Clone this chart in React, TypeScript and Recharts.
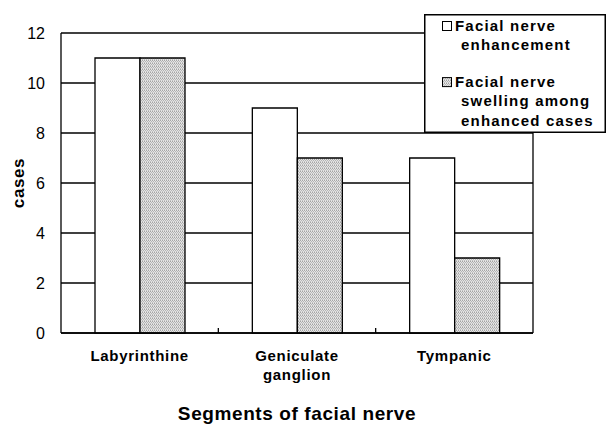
import { BarChart, Bar, XAxis, YAxis, CartesianGrid, Legend, Label } from 'recharts';

const segments = ['Labyrinthine', 'Geniculate ganglion', 'Tympanic'];
const enhancement = [11, 9, 7];
const swelling = [11, 7, 3];
const yTicks = [0, 2, 4, 6, 8, 10, 12];

const data = segments.map((s, i) => ({
  segment: s,
  enhancement: enhancement[i],
  swelling: swelling[i],
}));

const W = 606;
const H = 428;
const margin = { top: 33, right: 73, bottom: 0, left: 0 };
const yAxisWidth = 61;
const plotWidth = W - margin.left - margin.right - yAxisWidth;
const band = plotWidth / segments.length;

const font = "'Liberation Sans', Arial, sans-serif";

// crude word wrap, good enough for these labels
function wrap(text: string, max = 14) {
  const lines: string[] = [];
  let cur = '';
  text.split(' ').forEach((w) => {
    if (cur && (cur + ' ' + w).length > max) {
      lines.push(cur);
      cur = w;
    } else {
      cur = cur ? cur + ' ' + w : w;
    }
  });
  if (cur) lines.push(cur);
  return lines;
}

function SegmentTick(props: any) {
  const { x, y, payload, index } = props;
  const lines = wrap(payload.value);
  return (
    <g>
      {index > 0 && <line x1={x - band / 2} x2={x - band / 2} y1={y} y2={y - 5} stroke="#000" strokeWidth={1.3} />}
      <text x={x} y={y + 28} textAnchor="middle" fontFamily={font} fontSize={15} fontWeight="bold" letterSpacing={0.7} fill="#000">
        {lines.map((l, i) => (
          <tspan key={i} x={x} dy={i === 0 ? 0 : 19}>
            {l}
          </tspan>
        ))}
      </text>
    </g>
  );
}

function CasesLabel(props: any) {
  const { viewBox } = props;
  const cx = viewBox.x + 18;
  const cy = viewBox.y + viewBox.height / 2;
  return (
    <text
      x={cx}
      y={cy}
      transform={`rotate(-90, ${cx}, ${cy})`}
      textAnchor="middle"
      dominantBaseline="central"
      fontFamily={font}
      fontSize={17}
      fontWeight="bold"
      letterSpacing={0.6}
      fill="#000"
    >
      cases
    </text>
  );
}

function LegendBox({ payload }: any) {
  let top = 17;
  return (
    <svg width={182} height={119} style={{ display: 'block' }}>
      <rect x={0.75} y={0.75} width={180.5} height={117.5} fill="#fff" stroke="#000" strokeWidth={1.5} />
      {(payload || []).map((p: any, i: number) => {
        const lines = wrap(p.value);
        const base = top;
        top += lines.length * 19.3 + 17.5;
        return (
          <g key={i}>
            <rect x={18.5} y={base - 9.5} width={9} height={9} fill={p.color} stroke="#000" strokeWidth={1} />
            <text x={31} y={base} fontFamily={font} fontSize={15} fontWeight="bold" letterSpacing={1.2} fill="#000">
              {lines.map((l, j) => (
                <tspan key={j} x={j === 0 ? 31 : 37} dy={j === 0 ? 0 : 19.3}>
                  {l}
                </tspan>
              ))}
            </text>
          </g>
        );
      })}
    </svg>
  );
}

export default function App() {
  return (
    <div style={{ position: 'absolute', left: 0, top: 0, width: W, height: H, background: '#fff' }}>
      <BarChart width={W} height={H} data={data} margin={margin} barGap={0} barSize={45}>
        <defs>
          <pattern id="dots" width={2} height={3} patternUnits="userSpaceOnUse">
            <rect width={2} height={3} fill="#e4e4e4" />
            <rect x={0} y={0} width={1} height={1} fill="#a4a4a4" />
            <rect x={1} y={1} width={1} height={1} fill="#b4b4b4" />
            <rect x={0} y={2} width={1} height={1} fill="#c0c0c0" />
          </pattern>
        </defs>
        <CartesianGrid
          stroke="#000"
          strokeWidth={1.3}
          vertical={true}
          verticalCoordinatesGenerator={({ offset }: any) => [offset.left + offset.width]}
        />
        <XAxis
          dataKey="segment"
          height={95}
          tickLine={false}
          tickSize={0}
          tickMargin={0}
          tick={<SegmentTick />}
          interval={0}
          axisLine={{ stroke: '#000', strokeWidth: 1.3 }}
        >
          <Label
            value="Segments of facial nerve"
            position="insideBottom"
            offset={8}
            style={{ fontFamily: font, fontSize: 19, fontWeight: 'bold', letterSpacing: 0.6, fill: '#000' }}
          />
        </XAxis>
        <YAxis
          width={yAxisWidth}
          domain={[0, 12]}
          ticks={yTicks}
          interval={0}
          tickLine={false}
          tickSize={0}
          tickMargin={16}
          axisLine={{ stroke: '#000', strokeWidth: 1.3 }}
          tick={{ fill: '#000', fontSize: 16, fontFamily: font }}
        >
          <Label content={<CasesLabel />} />
        </YAxis>
        <Legend
          layout="horizontal"
          verticalAlign="middle"
          align="center"
          content={<LegendBox />}
          wrapperStyle={{ left: 424, top: 14, width: 182, height: 119 }}
        />
        <Bar dataKey="enhancement" name="Facial nerve enhancement" fill="#fff" stroke="#000" strokeWidth={1.3} isAnimationActive={false} />
        <Bar dataKey="swelling" name="Facial nerve swelling among enhanced cases" fill="url(#dots)" stroke="#000" strokeWidth={1.3} isAnimationActive={false} />
      </BarChart>
    </div>
  );
}
